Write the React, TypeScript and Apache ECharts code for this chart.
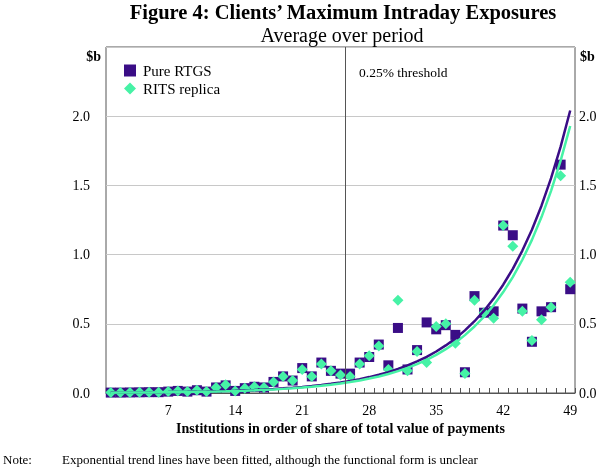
import React, { useEffect, useRef } from "react";
import * as echarts from "echarts";

// Institutions 1..49 in order of share of total value of payments
const INSTITUTIONS: number[] = Array.from({ length: 49 }, (_, i) => i + 1);

// Average maximum intraday exposures ($b)
const PURE_RTGS: number[] = [
  0.003, 0.003, 0.004, 0.005, 0.006, 0.006, 0.01, 0.015, 0.01, 0.02,
  0.01, 0.04, 0.055, 0.015, 0.035, 0.045, 0.04, 0.08, 0.12, 0.09,
  0.18, 0.12, 0.22, 0.16, 0.14, 0.14, 0.22, 0.26, 0.35, 0.2,
  0.47, 0.17, 0.31, 0.51, 0.46, 0.49, 0.42, 0.15, 0.7, 0.58,
  0.59, 1.21, 1.14, 0.61, 0.37, 0.59, 0.62, 1.65, 0.75,
];
const RITS_REPLICA: number[] = [
  0.003, 0.003, 0.004, 0.005, 0.006, 0.006, 0.01, 0.015, 0.01, 0.02,
  0.01, 0.04, 0.06, 0.015, 0.035, 0.045, 0.04, 0.08, 0.12, 0.09,
  0.17, 0.12, 0.21, 0.16, 0.13, 0.12, 0.21, 0.27, 0.34, 0.17,
  0.67, 0.16, 0.3, 0.22, 0.48, 0.5, 0.36, 0.14, 0.67, 0.58,
  0.54, 1.21, 1.06, 0.59, 0.38, 0.53, 0.62, 1.57, 0.8,
];

// Exponential trend fits y = a * exp(b * x), parameters
const PURE_TREND = { a: 0.00248, b: 0.137 };
const RITS_TREND = { a: 0.002125, b: 0.139 };

const X_TICK_LABELS: number[] = [7, 14, 21, 28, 35, 42, 49];
const Y_TICKS: number[] = [0, 0.5, 1, 1.5, 2];
const THRESHOLD_X = 25.5;

const PURPLE = "#3a0d86";
const GREEN = "#46f2a6";
const FONT = "Liberation Serif";

export default function App() {
  const ref = useRef<HTMLDivElement>(null);
  useEffect(() => {
    if (!ref.current) return;
    const chart = echarts.init(ref.current, undefined, { renderer: "svg" });
    const boundaries = [0, ...INSTITUTIONS].map((v) => v + 0.5);
    const pureTrend = INSTITUTIONS.map((x) => [x, PURE_TREND.a * Math.exp(PURE_TREND.b * x)]);
    const ritsTrend = INSTITUTIONS.map((x) => [x, RITS_TREND.a * Math.exp(RITS_TREND.b * x)]);
    const yMax = 2.5;
    const yAxisBase = {
      type: "value",
      min: 0,
      max: yMax,
      interval: 0.5,
      axisLine: { show: false },
      axisTick: { show: false },
      axisLabel: {
        fontFamily: FONT,
        fontSize: 14,
        color: "#000",
        formatter: (v: number) => (Y_TICKS.some((t) => Math.abs(t - v) < 1e-9) ? v.toFixed(1) : ""),
      },
    };
    chart.setOption({
      animation: false,
      textStyle: { fontFamily: FONT },
      grid: {
        left: 106,
        right: 25,
        top: 47,
        bottom: 74,
        show: true,
        borderColor: "#555",
        borderWidth: 1,
        containLabel: false,
      },
      legend: {
        orient: "vertical",
        left: 119,
        top: 58,
        itemWidth: 12,
        itemHeight: 12,
        itemGap: 3,
        data: ["Pure RTGS", "RITS replica"],
        textStyle: { fontFamily: FONT, fontSize: 15, color: "#000", padding: [0, 0, 0, 2] },
      },
      xAxis: {
        type: "value",
        min: 0.5,
        max: 49.5,
        splitLine: { show: false },
        axisLine: { show: true, lineStyle: { color: "#555" } },
        axisTick: {
          show: true,
          inside: true,
          length: 5,
          customValues: boundaries,
          lineStyle: { color: "#555" },
        },
        axisLabel: {
          customValues: X_TICK_LABELS,
          fontFamily: FONT,
          fontSize: 14,
          color: "#000",
          margin: 10,
        },
        name: "Institutions in order of share of total value of payments",
        nameLocation: "middle",
        nameGap: 28,
        nameTextStyle: { fontFamily: FONT, fontSize: 14, fontWeight: "bold", color: "#000" },
      },
      yAxis: [
        {
          ...yAxisBase,
          position: "left",
          splitLine: { show: true, lineStyle: { color: "#c8c8c8", width: 1 } },
          axisLabel: { ...yAxisBase.axisLabel, margin: 16 },
        },
        {
          ...yAxisBase,
          position: "right",
          splitLine: { show: false },
          axisLabel: { ...yAxisBase.axisLabel, margin: 4 },
        },
      ],
      series: [
        {
          name: "Pure RTGS",
          type: "scatter",
          symbol: "rect",
          symbolSize: 10,
          itemStyle: { color: PURPLE, opacity: 1 },
          data: INSTITUTIONS.map((x, i) => [x, PURE_RTGS[i]]),
          z: 2,
          markLine: {
            silent: true,
            symbol: "none",
            label: { show: false },
            lineStyle: { color: "#555", type: "solid", width: 1 },
            data: [{ xAxis: THRESHOLD_X }],
          },
        },
        {
          name: "RITS replica",
          type: "scatter",
          symbol: "diamond",
          symbolSize: [11, 11],
          itemStyle: { color: GREEN, opacity: 1 },
          data: INSTITUTIONS.map((x, i) => [x, RITS_REPLICA[i]]),
          z: 3,
        },
        {
          name: "Pure RTGS trend",
          type: "line",
          showSymbol: false,
          symbol: "none",
          lineStyle: { color: PURPLE, width: 2.5 },
          data: pureTrend,
          z: 4,
        },
        {
          name: "RITS replica trend",
          type: "line",
          showSymbol: false,
          symbol: "none",
          lineStyle: { color: GREEN, width: 2.5 },
          data: ritsTrend,
          z: 4,
        },
      ],
      graphic: [
        {
          type: "text",
          x: 343,
          y: 12,
          style: {
            text: "Figure 4: Clients’ Maximum Intraday Exposures",
            font: `bold 20.5px ${FONT}`,
            fill: "#000",
            align: "center",
            verticalAlign: "middle",
          },
        },
        {
          type: "text",
          x: 342,
          y: 35,
          style: { text: "Average over period", font: `20px ${FONT}`, fill: "#000", align: "center", verticalAlign: "middle" },
        },
        {
          type: "text",
          x: 101,
          y: 56,
          style: { text: "$b", font: `bold 14px ${FONT}`, fill: "#000", align: "right", verticalAlign: "middle" },
        },
        {
          type: "text",
          x: 580,
          y: 56,
          style: { text: "$b", font: `bold 14px ${FONT}`, fill: "#000", align: "left", verticalAlign: "middle" },
        },
        {
          type: "text",
          x: 359,
          y: 72,
          style: { text: "0.25% threshold", font: `13.5px ${FONT}`, fill: "#000", align: "left", verticalAlign: "middle" },
        },
        {
          type: "text",
          x: 3,
          y: 459,
          style: { text: "Note:", font: `13px ${FONT}`, fill: "#000", align: "left", verticalAlign: "middle" },
        },
        {
          type: "text",
          x: 62,
          y: 459,
          style: {
            text: "Exponential trend lines have been fitted, although the functional form is unclear",
            font: `13px ${FONT}`,
            fill: "#000",
            align: "left",
            verticalAlign: "middle",
          },
        },
      ],
    });
    return () => chart.dispose();
  }, []);
  return <div ref={ref} style={{ position: "fixed", left: 0, top: 0, width: 600, height: 467 }} />;
}
